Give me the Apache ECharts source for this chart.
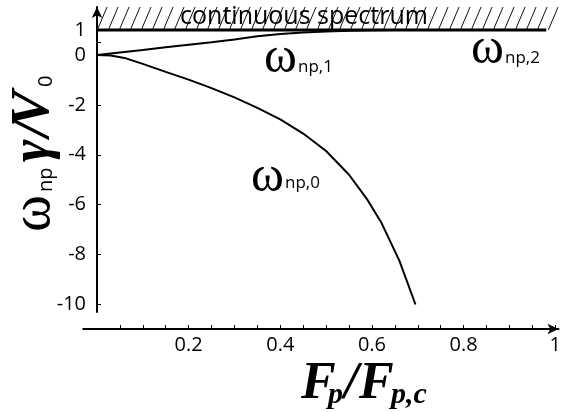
<!DOCTYPE html>
<html>
<head>
<meta charset="utf-8">
<script src="https://cdn.jsdelivr.net/npm/echarts@6/dist/echarts.min.js"></script>
<style>
  html, body { margin: 0; padding: 0; background: #fff; }
  #chart { width: 564px; height: 412px; }
</style>
</head>
<body>
<div id="chart"></div>
<script>
// Pinning force F_p / F_p,c
var branch1F = [0, 0.05, 0.1, 0.15, 0.2, 0.25, 0.3, 0.35, 0.4, 0.45, 0.5, 0.55, 0.6, 0.65, 0.98];
var branch1W = [0, 0.1, 0.2, 0.31, 0.41, 0.51, 0.62, 0.75, 0.84, 0.9, 0.94, 0.97, 0.99, 1.0, 1.0];

var branch0F = [0, 0.03, 0.06, 0.1, 0.15, 0.2, 0.25, 0.3, 0.35, 0.4, 0.45, 0.5, 0.55, 0.59, 0.62, 0.66, 0.695];
var branch0W = [0, -0.02, -0.12, -0.36, -0.68, -0.99, -1.33, -1.7, -2.12, -2.58, -3.15, -3.85, -4.8, -5.8, -6.7, -8.25, -10.0];

// lower edge of the continuous spectrum
var edgeF = [0, 0.98];
var edgeW = [1, 1];

var xTickValues = [0.05, 0.1, 0.15, 0.2, 0.25, 0.3, 0.35, 0.4, 0.45, 0.5, 0.55, 0.6, 0.65, 0.7, 0.75, 0.8, 0.85, 0.9, 0.95, 1];
var xLabelValues = [0.2, 0.4, 0.6, 0.8, 1];
var yTickValues = [1, 0.5, 0, -2, -4, -6, -8, -10];
var yLabelValues = [1, 0, -2, -4, -6, -8, -10];

function zip(a, b) {
  return a.map(function (v, i) { return [v, b[i]]; });
}

// diagonal hatching tile
function hatchTile() {
  var w = 11, h = 26;
  var c = document.createElement('canvas');
  c.width = w; c.height = h;
  var g = c.getContext('2d');
  g.strokeStyle = '#111';
  g.lineWidth = 1;
  for (var k = -1; k <= 1; k++) {
    g.beginPath();
    g.moveTo(k * w, h);
    g.lineTo(k * w + w, 0);
    g.stroke();
  }
  return c;
}

var SANS = '"Open Sans", "Noto Sans", sans-serif';
var SERIF = '"Liberation Serif", "DejaVu Serif", serif';

function txt(x, y, s, font) {
  return {
    type: 'text', x: x, y: y, silent: true,
    style: { text: s, font: font, fill: '#000', textAlign: 'left', align: 'left',
             textVerticalAlign: 'middle', verticalAlign: 'middle' }
  };
}

var chart = echarts.init(document.getElementById('chart'), null, { renderer: 'canvas' });

var option = {
  animation: false,
  backgroundColor: '#fff',
  grid: { left: 83.2, right: 3.8, top: 7, bottom: 100 },
  xAxis: {
    type: 'value',
    min: -0.03,
    max: 1.007,
    offset: 17,
    splitLine: { show: false },
    axisLine: {
      onZero: false,
      lineStyle: { color: '#000', width: 2 },
      symbol: ['none', 'arrow'],
      symbolSize: [8, 11]
    },
    axisTick: {
      inside: true, length: 4,
      customValues: xTickValues,
      lineStyle: { color: '#000', width: 1 }
    },
    axisLabel: {
      customValues: xLabelValues,
      margin: 6,
      color: '#000',
      fontFamily: SANS,
      fontSize: 20
    }
  },
  yAxis: {
    type: 'value',
    min: -10.3,
    max: 1.92,
    offset: -13.8,
    splitLine: { show: false },
    axisLine: {
      lineStyle: { color: '#000', width: 2 },
      symbol: ['none', 'arrow'],
      symbolSize: [8, 11]
    },
    axisTick: {
      inside: true, length: 4,
      customValues: yTickValues,
      lineStyle: { color: '#000', width: 1 }
    },
    axisLabel: {
      customValues: yLabelValues,
      margin: 11,
      color: '#000',
      fontFamily: SANS,
      fontSize: 20
    }
  },
  series: [
    {
      type: 'line',
      data: zip(edgeF, edgeW),
      symbol: 'none',
      lineStyle: { color: '#000', width: 3 },
      markArea: {
        silent: true,
        itemStyle: { color: { image: hatchTile(), repeat: 'repeat' } },
        data: [[{ coord: [0, 1] }, { coord: [1.007, 1.92] }]]
      },
      z: 3
    },
    {
      type: 'line',
      data: zip(branch1F, branch1W),
      symbol: 'none',
      lineStyle: { color: '#000', width: 2 },
      z: 4
    },
    {
      type: 'line',
      data: zip(branch0F, branch0W),
      symbol: 'none',
      lineStyle: { color: '#000', width: 2 },
      z: 4
    }
  ],
  graphic: [
    // region label
    {
      type: 'text', x: 304, y: 17, silent: true, z: 10,
      style: { text: 'continuous spectrum', font: '25px ' + SANS, fill: '#000',
               textAlign: 'center', align: 'center', textVerticalAlign: 'middle', verticalAlign: 'middle' }
    },
    // branch labels
    txt(264, 59, 'ω', '50px ' + SERIF),
    txt(298, 67, 'np,1', '17px ' + SANS),
    txt(471, 50, 'ω', '50px ' + SERIF),
    txt(505, 58, 'np,2', '17px ' + SANS),
    txt(251, 178, 'ω', '50px ' + SERIF),
    txt(285, 183, 'np,0', '17px ' + SANS),
    // x axis title
    txt(301, 385, 'F', 'italic bold 52px ' + SERIF),
    txt(328, 395, 'p', 'italic bold 30px ' + SERIF),
    txt(344, 385, '/', 'italic bold 52px ' + SERIF),
    txt(359, 385, 'F', 'italic bold 52px ' + SERIF),
    txt(391, 395, 'p,c', 'italic bold 30px ' + SERIF),
    // y axis title, reading bottom to top
    {
      type: 'group', x: 50, y: 232, rotation: Math.PI / 2,
      children: [
        txt(0, -16, 'ω', '56px ' + SERIF),
        txt(40, -4, 'np', '20px ' + SANS),
        txt(70, -16, 'γ', 'italic bold 54px ' + SERIF),
        txt(95, -16, '/', 'italic bold 54px ' + SERIF),
        txt(105, -16, 'V', 'italic bold 54px ' + SERIF),
        txt(145, -4, '0', '20px ' + SANS)
      ]
    }
  ]
};

chart.setOption(option);
</script>
</body>
</html>
